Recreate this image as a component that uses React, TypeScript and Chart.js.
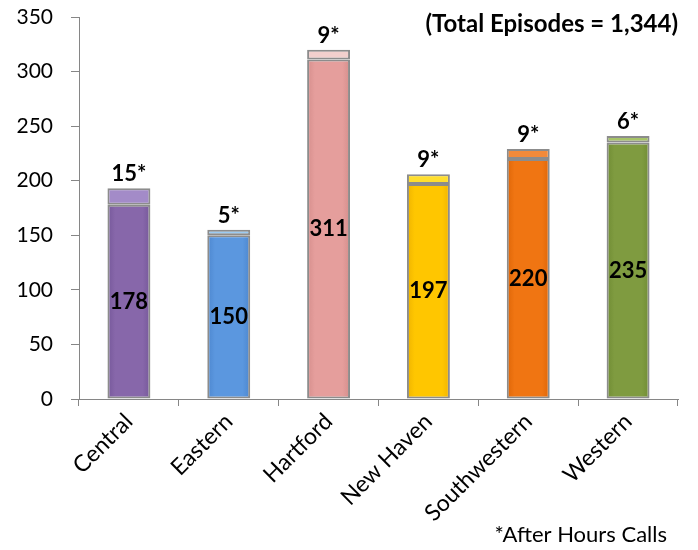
import React, { useEffect, useRef } from "react";
import { Chart, registerables } from "chart.js";

Chart.register(...registerables);

const categories = ["Central", "Eastern", "Hartford", "New Haven", "Southwestern", "Western"];
const episodes = [178, 150, 311, 197, 220, 235];
const afterHours = [15, 5, 9, 9, 9, 6];
const mainColors = ["#8767AA", "#5B97DF", "#E59E9C", "#FFC600", "#F07512", "#7F9B40"];
const mainEdgeColors = ["#76589A", "#4D87CF", "#D58E8C", "#EFB400", "#DE6608", "#708C34"];
const topColors = ["#A38BC8", "#9CCBF2", "#F2CFCD", "#FFDE2E", "#F28A3A", "#A7C468"];
const yMax = 350;
const yStep = 50;
const titleText = "(Total Episodes = 1,344)";
const noteText = "*After Hours Calls";

const FONT = "Lato, 'Open Sans', sans-serif";
const BAR_FRACTION = 0.43;

function barFill(base: string[], edge: string[]) {
  return (ctx: any) => {
    const chart = ctx.chart;
    const i = ctx.dataIndex;
    const xs = chart.scales && chart.scales.x;
    if (!chart.chartArea || !xs || i === undefined) return base[i ?? 0];
    const cx = xs.getPixelForValue(i);
    const w = (xs.width / categories.length) * BAR_FRACTION;
    const g = chart.ctx.createLinearGradient(cx - w / 2, 0, cx + w / 2, 0);
    g.addColorStop(0, edge[i]);
    g.addColorStop(0.18, base[i]);
    g.addColorStop(0.82, base[i]);
    g.addColorStop(1, edge[i]);
    return g;
  };
}

const labelPlugin = {
  id: "valueLabels",
  afterDatasetsDraw(chart: any) {
    const ctx = chart.ctx;
    ctx.save();
    ctx.fillStyle = "#000";
    ctx.textAlign = "center";
    ctx.font = `bold 22px ${FONT}`;
    const m0 = chart.getDatasetMeta(0);
    m0.data.forEach((bar: any, i: number) => {
      const p = bar.getProps(["x", "y", "base"], true);
      ctx.textBaseline = "middle";
      ctx.fillText(String(episodes[i]), p.x, (p.y + p.base) / 2);
    });
    const m1 = chart.getDatasetMeta(1);
    m1.data.forEach((bar: any, i: number) => {
      const p = bar.getProps(["x", "y", "base"], true);
      ctx.textBaseline = "bottom";
      ctx.fillText(`${afterHours[i]}*`, p.x, p.y - 3);
    });
    ctx.restore();
  },
  afterDraw(chart: any) {
    const ctx = chart.ctx;
    const area = chart.chartArea;
    ctx.save();
    ctx.fillStyle = "#000";
    ctx.textAlign = "right";
    ctx.textBaseline = "middle";
    ctx.font = `bold 24px ${FONT}`;
    ctx.fillText(titleText, area.right, area.top + 7);
    ctx.font = `22px ${FONT}`;
    ctx.textBaseline = "alphabetic";
    ctx.fillText(noteText, area.right - 11, chart.height - 8);
    ctx.restore();
  },
};

export default function App() {
  const ref = useRef<HTMLCanvasElement | null>(null);
  useEffect(() => {
    document.body.style.margin = "0";
    const canvas = ref.current!;
    const chart = new Chart(canvas, {
      type: "bar",
      data: {
        labels: categories,
        datasets: [
          {
            label: "Episodes",
            data: episodes,
            backgroundColor: barFill(mainColors, mainEdgeColors),
            borderColor: "#8C8C8C",
            borderWidth: 2,
            borderSkipped: false,
            stack: "s",
          },
          {
            label: "After Hours",
            data: afterHours,
            backgroundColor: topColors,
            borderColor: "#8C8C8C",
            borderWidth: 2,
            borderSkipped: false,
            stack: "s",
          },
        ],
      },
      options: {
        animation: false,
        responsive: false,
        maintainAspectRatio: false,
        layout: { padding: { top: 17, right: 20, left: 0, bottom: 0 } },
        plugins: { legend: { display: false }, tooltip: { enabled: false }, title: { display: false } },
        datasets: { bar: { barPercentage: BAR_FRACTION, categoryPercentage: 1 } },
        scales: {
          x: {
            stacked: true,
            border: { color: "#868686", width: 1 },
            grid: { drawOnChartArea: false, tickLength: 7, color: "#868686", offset: true },
            ticks: {
              maxRotation: 45,
              minRotation: 45,
              padding: 2,
              color: "#000",
              font: { family: FONT, size: 23 },
            },
            afterFit: (s: any) => {
              s.height = 151;
              s.paddingLeft = 0;
              s.paddingRight = 0;
            },
          },
          y: {
            stacked: true,
            min: 0,
            max: yMax,
            border: { color: "#868686", width: 1 },
            grid: { drawOnChartArea: false, tickLength: 8, color: "#868686" },
            ticks: {
              stepSize: yStep,
              padding: 18,
              color: "#000",
              font: { family: FONT, size: 21 },
            },
            afterFit: (s: any) => {
              s.width = 79;
              s.paddingTop = 0;
              s.paddingBottom = 0;
            },
          },
        },
      },
      plugins: [labelPlugin],
    });
    return () => chart.destroy();
  }, []);
  return <canvas ref={ref} width={698} height={550} style={{ display: "block" }} />;
}
